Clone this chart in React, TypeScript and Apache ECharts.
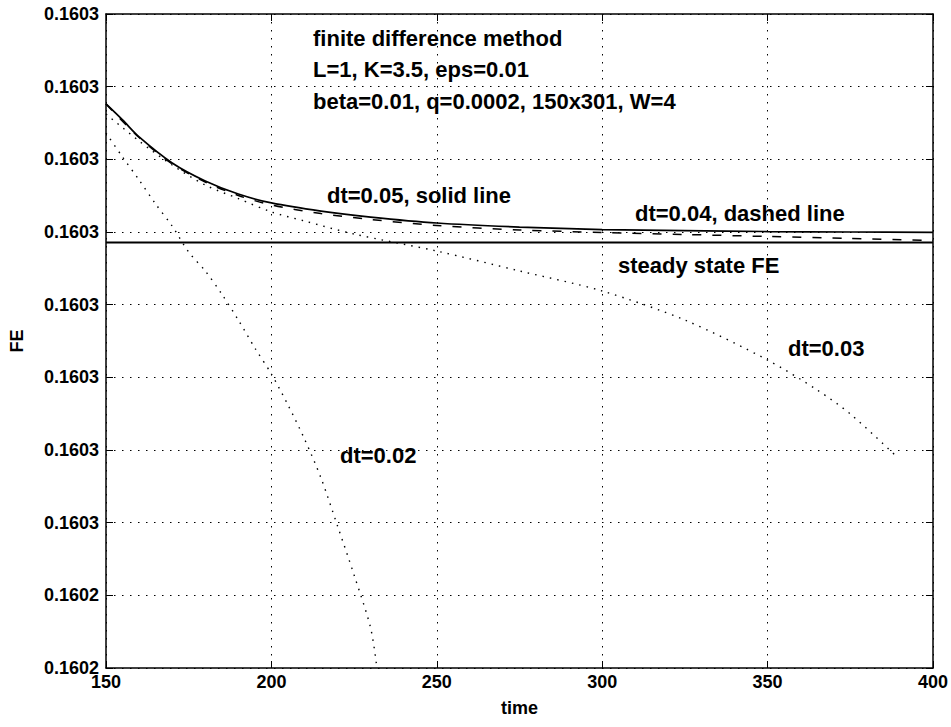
import React, { useEffect, useRef } from "react";
import * as echarts from "echarts";

// time samples and FE values
const TIME_DT005 = [150, 155, 160, 170, 180, 190, 200, 215, 230, 250, 275, 300, 325, 350, 375, 400];
const FE_DT005 = [
  0.16027881, 0.16027771, 0.16027654, 0.16027475, 0.16027351, 0.16027261, 0.160272, 0.16027144,
  0.16027103, 0.16027062, 0.16027034, 0.16027017, 0.1602701, 0.16027003, 0.16027, 0.16026997,
];

const TIME_DT004 = [150, 160, 170, 180, 190, 200, 215, 230, 250, 275, 300, 325, 350, 375, 400];
const FE_DT004 = [
  0.16027881, 0.1602765, 0.16027468, 0.16027344, 0.16027251, 0.16027186, 0.16027127, 0.16027086,
  0.16027045, 0.16027014, 0.16026997, 0.16026983, 0.16026969, 0.16026955, 0.16026942,
];

const TIME_DT003 = [150, 160, 170, 180, 190, 200, 210, 225, 250, 275, 300, 325, 350, 365, 375, 388.5];
const FE_DT003 = [
  0.16027812, 0.16027626, 0.16027461, 0.16027323, 0.1602723, 0.16027138, 0.16027076, 0.16026986,
  0.16026869, 0.16026732, 0.16026594, 0.16026394, 0.16026119, 0.16025913, 0.16025748, 0.16025466,
];

const TIME_DT002 = [150, 155, 160, 165, 170, 175, 180, 185, 190, 195, 200, 205, 210, 215, 220, 225, 230, 231.9];
const FE_DT002 = [
  0.16027681, 0.16027516, 0.16027358, 0.16027193, 0.16027041, 0.16026862, 0.16026732, 0.16026573,
  0.16026394, 0.16026202, 0.16026023, 0.1602581, 0.16025576, 0.16025307, 0.16024977, 0.1602464,
  0.16024275, 0.16024,
];

const TIME_RANGE = [150, 400];
const FE_STEADY = 0.16026928;

const X_TICK_LABELS = ["150", "200", "250", "300", "350", "400"];
const Y_TICK_LABELS = [
  "0.1602", "0.1602", "0.1603", "0.1603", "0.1603", "0.1603", "0.1603", "0.1603", "0.1603", "0.1603",
];

const ANNOTATIONS = [
  "finite difference method",
  "L=1, K=3.5, eps=0.01",
  "beta=0.01, q=0.0002, 150x301, W=4",
  "dt=0.05, solid line",
  "dt=0.04, dashed line",
  "steady state FE",
  "dt=0.03",
  "dt=0.02",
];

const Y_MIN = 0.16024;
const Y_MAX = 0.160285;
const Y_STEP = 0.000005;

const FONT = "Liberation Sans, Arial, Helvetica, sans-serif";

function pairs(xs: number[], ys: number[]) {
  return xs.map((x, i) => [x, ys[i]]);
}

export default function App() {
  const ref = useRef<HTMLDivElement>(null);

  useEffect(() => {
    if (!ref.current) return;
    const chart = echarts.init(ref.current, undefined, { renderer: "svg" });

    const annPos = [
      [313, 38],
      [313, 69],
      [313, 101],
      [327, 195],
      [635, 213],
      [618, 265],
      [788, 348],
      [340, 455],
    ];

    const axisCommon = {
      type: "value" as const,
      axisLine: { show: true, onZero: false, lineStyle: { color: "#000", width: 1.5 } },
      axisTick: { show: true, inside: true, length: 7, lineStyle: { color: "#000", width: 1 } },
    };

    chart.setOption({
      animation: false,
      backgroundColor: "#fff",
      grid: { left: 105, right: 16, top: 14, bottom: 59, containLabel: false },
      xAxis: [
        {
          ...axisCommon,
          min: TIME_RANGE[0],
          max: TIME_RANGE[1],
          interval: 50,
          position: "bottom",
          name: "time",
          nameLocation: "middle",
          nameGap: 31,
          nameTextStyle: { fontFamily: FONT, fontWeight: "bold", fontSize: 18, color: "#000" },
          axisLabel: {
            color: "#000",
            fontFamily: FONT,
            fontWeight: "bold",
            fontSize: 18,
            margin: 5,
            formatter: (v: number) => {
              const i = Math.round((v - TIME_RANGE[0]) / 50);
              return X_TICK_LABELS[i] ?? String(v);
            },
          },
          splitLine: { show: true, lineStyle: { color: "#000", width: 1, type: [1.5, 6.5] } },
        },
        {
          ...axisCommon,
          min: TIME_RANGE[0],
          max: TIME_RANGE[1],
          interval: 50,
          position: "top",
          axisLabel: { show: false },
          splitLine: { show: false },
        },
      ],
      yAxis: [
        {
          ...axisCommon,
          min: Y_MIN,
          max: Y_MAX,
          interval: Y_STEP,
          position: "left",
          name: "FE",
          nameLocation: "middle",
          nameRotate: 90,
          nameGap: 80,
          nameTextStyle: { fontFamily: FONT, fontWeight: "bold", fontSize: 18, color: "#000" },
          axisLabel: {
            color: "#000",
            fontFamily: FONT,
            fontWeight: "bold",
            fontSize: 18,
            margin: 7,
            formatter: (v: number) => {
              const i = Math.round((v - Y_MIN) / Y_STEP);
              return Y_TICK_LABELS[i] ?? "";
            },
          },
          splitLine: { show: true, lineStyle: { color: "#000", width: 1, type: [1.5, 6.5] } },
        },
        {
          ...axisCommon,
          min: Y_MIN,
          max: Y_MAX,
          interval: Y_STEP,
          position: "right",
          axisLabel: { show: false },
          splitLine: { show: false },
        },
      ],
      series: [
        {
          type: "line",
          data: pairs(TIME_RANGE, [FE_STEADY, FE_STEADY]),
          showSymbol: false,
          lineStyle: { color: "#000", width: 2 },
          silent: true,
        },
        {
          type: "line",
          data: pairs(TIME_DT002, FE_DT002),
          showSymbol: false,
          smooth: 0.3,
          lineStyle: { color: "#000", width: 1.4, type: [1.5, 6] },
          silent: true,
        },
        {
          type: "line",
          data: pairs(TIME_DT003, FE_DT003),
          showSymbol: false,
          smooth: 0.3,
          lineStyle: { color: "#000", width: 1.4, type: [1.5, 6] },
          silent: true,
        },
        {
          type: "line",
          data: pairs(TIME_DT004, FE_DT004),
          showSymbol: false,
          smooth: 0.3,
          lineStyle: { color: "#000", width: 1.5, type: [9, 11] },
          silent: true,
        },
        {
          type: "line",
          data: pairs(TIME_DT005, FE_DT005),
          showSymbol: false,
          smooth: 0.3,
          lineStyle: { color: "#000", width: 1.7 },
          silent: true,
        },
      ],
      graphic: ANNOTATIONS.map((t, i) => ({
        type: "text",
        x: annPos[i][0],
        y: annPos[i][1],
        z: 100,
        style: {
          text: t,
          fill: "#000",
          font: `bold 22px ${FONT}`,
          textAlign: "left",
          textVerticalAlign: "middle",
          align: "left",
          verticalAlign: "middle",
        },
      })),
    });

    return () => chart.dispose();
  }, []);

  return (
    <div
      ref={ref}
      style={{ position: "fixed", left: 0, top: 0, width: 951, height: 727, background: "#fff" }}
    />
  );
}
